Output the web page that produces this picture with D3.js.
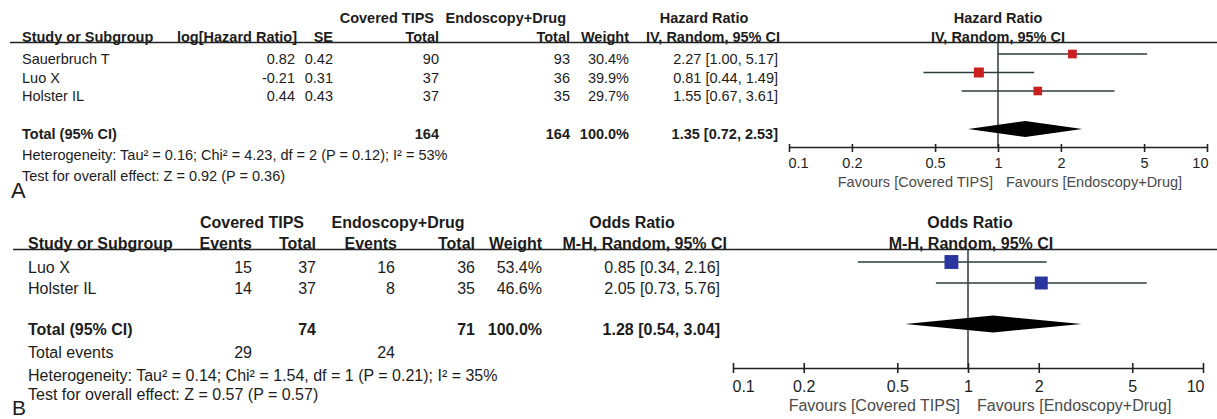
<!DOCTYPE html>
<html>
<head>
<meta charset="utf-8">
<script src="https://cdn.jsdelivr.net/npm/d3@7"></script>
<style>
  body { margin: 0; background: #fff; }
  text { font-family: "Liberation Sans", Arial, sans-serif; fill: #1c1c1c; }
</style>
</head>
<body>
<script>
var width = 1217, height = 419;

// panel A - hazard ratio, IV random
var studiesA = ["Sauerbruch T", "Luo X", "Holster IL"];
var logHrA = ["0.82", "-0.21", "0.44"];
var seA = ["0.42", "0.31", "0.43"];
var tipsTotalA = [90, 37, 37];
var endoTotalA = [93, 36, 35];
var weightA = [30.4, 39.9, 29.7];
var hrA = [2.27, 0.81, 1.55];
var hrLowA = [1.00, 0.44, 0.67];
var hrHighA = [5.17, 1.49, 3.61];
var pooledA = [1.35, 0.72, 2.53];
var totalsA = [164, 164];
var hetA = "Heterogeneity: Tau² = 0.16; Chi² = 4.23, df = 2 (P = 0.12); I² = 53%";
var testA = "Test for overall effect: Z = 0.92 (P = 0.36)";

// panel B - odds ratio, M-H random
var studiesB = ["Luo X", "Holster IL"];
var tipsEventsB = [15, 14];
var tipsTotalB = [37, 37];
var endoEventsB = [16, 8];
var endoTotalB = [36, 35];
var weightB = [53.4, 46.6];
var orB = [0.85, 2.05];
var orLowB = [0.34, 0.73];
var orHighB = [2.16, 5.76];
var pooledB = [1.28, 0.54, 3.04];
var totalsB = [74, 71];
var eventsB = [29, 24];
var hetB = "Heterogeneity: Tau² = 0.14; Chi² = 1.54, df = 1 (P = 0.21); I² = 35%";
var testB = "Test for overall effect: Z = 0.57 (P = 0.57)";

var tickVals = [0.1, 0.2, 0.5, 1, 2, 5, 10];
var leftLabel = "Favours [Covered TIPS]", rightLabel = "Favours [Endoscopy+Drug]";

var f2 = d3.format(".2f"), f1 = d3.format(".1f");
function ciText(e, lo, hi) { return f2(e) + " [" + f2(lo) + ", " + f2(hi) + "]"; }

var svg = d3.select("body").append("svg")
    .attr("width", width)
    .attr("height", height);

function txt(g, x, y, s, anchor, bold, size, color) {
  var t = g.append("text")
    .attr("x", x).attr("y", y)
    .attr("dy", "0.35em")
    .attr("text-anchor", anchor || "start")
    .style("font-size", size + "px")
    .text(s);
  if (bold) t.style("font-weight", "bold");
  if (color) t.style("fill", color);
  return t;
}

function forest(g, cfg) {
  var x = d3.scaleLog().domain([0.1, 10]).range(cfg.range);
  var size = d3.scaleSqrt().domain([0, 100]).range([0, cfg.boxMax]);
  var lineColor = "#2c3c3c";

  // vertical no-effect line
  g.append("line")
    .attr("x1", x(1)).attr("x2", x(1))
    .attr("y1", cfg.ruleY).attr("y2", cfg.axisY)
    .attr("stroke", lineColor).attr("stroke-width", 1.5);

  cfg.est.forEach(function(e, i) {
    var y = cfg.rowY[i] - 5;
    g.append("line")
      .attr("x1", x(cfg.lo[i])).attr("x2", x(cfg.hi[i]))
      .attr("y1", y).attr("y2", y)
      .attr("stroke", lineColor).attr("stroke-width", 1.5);
    var s = size(cfg.weight[i]);
    g.append("rect")
      .attr("x", x(e) - s / 2).attr("y", y - s / 2)
      .attr("width", s).attr("height", s)
      .attr("fill", cfg.boxColor);
  });

  var p = cfg.pooled, yc = cfg.totalY - 5, h = cfg.diamondH;
  g.append("path")
    .attr("d", "M" + x(p[1]) + "," + yc + "L" + x(p[0]) + "," + (yc - h) +
               "L" + x(p[2]) + "," + yc + "L" + x(p[0]) + "," + (yc + h) + "Z")
    .attr("fill", "#000");

  var ax = g.append("g")
    .attr("transform", "translate(0," + cfg.axisY + ")")
    .call(d3.axisBottom(x).tickValues(tickVals).tickFormat(d3.format("")).tickSizeOuter(0));
  ax.select(".domain").attr("stroke", "#222").attr("stroke-width", 1.6);
  ax.selectAll(".tick line").attr("y1", -cfg.tickUp).attr("y2", cfg.tickDown)
    .attr("stroke", "#222").attr("stroke-width", 1.6);
  ax.selectAll(".tick text")
    .attr("y", cfg.labelOff).attr("dy", "0.35em")
    .style("font-size", cfg.fs + "px")
    .attr("text-anchor", function(d, i) { return i === 0 ? "start" : (i === tickVals.length - 1 ? "end" : "middle"); })
    .attr("dx", function(d, i) { return i === 0 ? -1 : (i === tickVals.length - 1 ? 1 : 0); });
  ax.attr("font-family", null).attr("font-size", null);

  txt(g, x(1) - cfg.favGap[0], cfg.favY, leftLabel, "end", false, cfg.fs, "#4a4a4a");
  txt(g, x(1) + cfg.favGap[1], cfg.favY, rightLabel, "start", false, cfg.fs, "#4a4a4a");
  return x;
}

// ---------- panel A ----------
var gA = svg.append("g");
var fsA = 14.5;
var rowA = [59, 77.5, 96];

txt(gA, 434, 18, "Covered TIPS", "end", true, fsA);
txt(gA, 566, 18, "Endoscopy+Drug", "end", true, fsA);
txt(gA, 704, 18, "Hazard Ratio", "middle", true, fsA);
txt(gA, 998, 18, "Hazard Ratio", "middle", true, fsA);

txt(gA, 22, 37, "Study or Subgroup", "start", true, fsA);
txt(gA, 297, 37, "log[Hazard Ratio]", "end", true, fsA);
txt(gA, 333, 37, "SE", "end", true, fsA);
txt(gA, 439, 37, "Total", "end", true, fsA);
txt(gA, 570, 37, "Total", "end", true, fsA);
txt(gA, 629, 37, "Weight", "end", true, fsA);
txt(gA, 780, 37, "IV, Random, 95% CI", "end", true, fsA);
txt(gA, 998, 37, "IV, Random, 95% CI", "middle", true, fsA);

gA.append("line").attr("x1", 10).attr("x2", width).attr("y1", 42.5).attr("y2", 42.5)
  .attr("stroke", "#222").attr("stroke-width", 1.6);

studiesA.forEach(function(s, i) {
  var y = rowA[i];
  txt(gA, 22, y, s, "start", false, fsA);
  txt(gA, 295, y, logHrA[i], "end", false, fsA);
  txt(gA, 333, y, seA[i], "end", false, fsA);
  txt(gA, 439, y, tipsTotalA[i], "end", false, fsA);
  txt(gA, 570, y, endoTotalA[i], "end", false, fsA);
  txt(gA, 629, y, f1(weightA[i]) + "%", "end", false, fsA);
  txt(gA, 778, y, ciText(hrA[i], hrLowA[i], hrHighA[i]), "end", false, fsA);
});

txt(gA, 22, 134, "Total (95% CI)", "start", true, fsA);
txt(gA, 439, 134, totalsA[0], "end", true, fsA);
txt(gA, 570, 134, totalsA[1], "end", true, fsA);
txt(gA, 629, 134, "100.0%", "end", true, fsA);
txt(gA, 778, 134, ciText(pooledA[0], pooledA[1], pooledA[2]), "end", true, fsA);
txt(gA, 22, 155, hetA, "start", false, fsA);
txt(gA, 22, 176, testA, "start", false, fsA);

forest(gA, {
  range: [789, 1207], ruleY: 42.5, axisY: 147, rowY: rowA, totalY: 134,
  est: hrA, lo: hrLowA, hi: hrHighA, weight: weightA, pooled: pooledA,
  boxMax: 15.8, boxColor: "#cc2020", diamondH: 8,
  tickUp: 3, tickDown: 5, labelOff: 16, favY: 182, favGap: [5, 8], fs: fsA
});

gA.append("text").attr("x", 11).attr("y", 198).style("font-size", "22px").text("A");

// ---------- panel B ----------
var gB = svg.append("g");
var fsB = 16;
var rowB = [267, 288];

txt(gB, 252, 222, "Covered TIPS", "middle", true, fsB);
txt(gB, 398, 222, "Endoscopy+Drug", "middle", true, fsB);
txt(gB, 632, 222, "Odds Ratio", "middle", true, fsB);
txt(gB, 970, 222, "Odds Ratio", "middle", true, fsB);

txt(gB, 28, 243, "Study or Subgroup", "start", true, fsB);
txt(gB, 252, 243, "Events", "end", true, fsB);
txt(gB, 316, 243, "Total", "end", true, fsB);
txt(gB, 397, 243, "Events", "end", true, fsB);
txt(gB, 475, 243, "Total", "end", true, fsB);
txt(gB, 542, 243, "Weight", "end", true, fsB);
txt(gB, 727, 243, "M-H, Random, 95% CI", "end", true, fsB);
txt(gB, 971, 243, "M-H, Random, 95% CI", "middle", true, fsB);

gB.append("line").attr("x1", 13).attr("x2", width).attr("y1", 249.5).attr("y2", 249.5)
  .attr("stroke", "#222").attr("stroke-width", 1.6);

studiesB.forEach(function(s, i) {
  var y = rowB[i];
  txt(gB, 28, y, s, "start", false, fsB);
  txt(gB, 252, y, tipsEventsB[i], "end", false, fsB);
  txt(gB, 316, y, tipsTotalB[i], "end", false, fsB);
  txt(gB, 395, y, endoEventsB[i], "end", false, fsB);
  txt(gB, 475, y, endoTotalB[i], "end", false, fsB);
  txt(gB, 542, y, f1(weightB[i]) + "%", "end", false, fsB);
  txt(gB, 720, y, ciText(orB[i], orLowB[i], orHighB[i]), "end", false, fsB);
});

txt(gB, 28, 329, "Total (95% CI)", "start", true, fsB);
txt(gB, 316, 329, totalsB[0], "end", true, fsB);
txt(gB, 475, 329, totalsB[1], "end", true, fsB);
txt(gB, 542, 329, "100.0%", "end", true, fsB);
txt(gB, 720, 329, ciText(pooledB[0], pooledB[1], pooledB[2]), "end", true, fsB);
txt(gB, 28, 352, "Total events", "start", false, fsB);
txt(gB, 252, 352, eventsB[0], "end", false, fsB);
txt(gB, 395, 352, eventsB[1], "end", false, fsB);
txt(gB, 28, 375, hetB, "start", false, fsB);
txt(gB, 28, 394, testB, "start", false, fsB);

forest(gB, {
  range: [733, 1203], ruleY: 249.5, axisY: 368, rowY: rowB, totalY: 329,
  est: orB, lo: orLowB, hi: orHighB, weight: weightB, pooled: pooledB,
  boxMax: 19, boxColor: "#2a35a0", diamondH: 8.5,
  tickUp: 5, tickDown: 5, labelOff: 18, favY: 405, favGap: [8, 9], fs: fsB
});

gB.append("text").attr("x", 12).attr("y", 415).style("font-size", "21px").text("B");
</script>
</body>
</html>
